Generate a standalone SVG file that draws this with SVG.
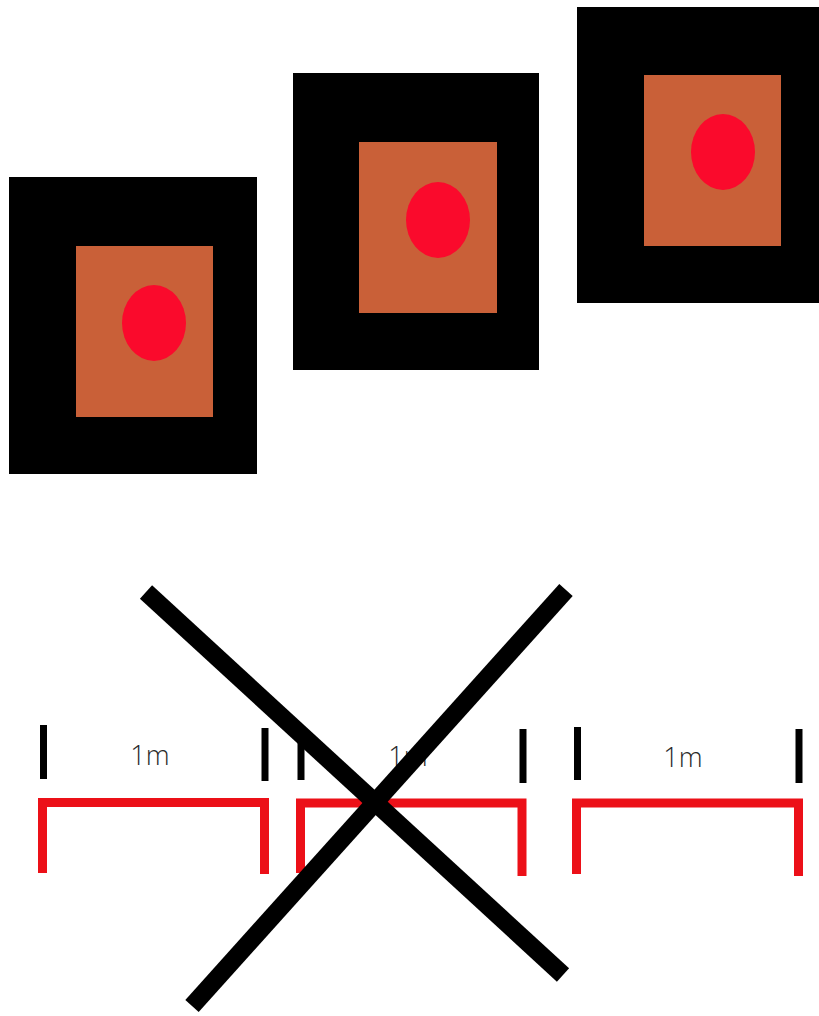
<svg xmlns="http://www.w3.org/2000/svg" width="819" height="1016" viewBox="0 0 819 1016">
<style>
.frame{fill:#000}
.plate{fill:#c96038}
.dot{fill:#fa0a2c}
.tick{stroke:#000;stroke-width:7;fill:none}
.bracket{stroke:#ec1018;stroke-width:9;fill:none;stroke-linejoin:miter}
.lbl{font-family:"Open Sans","Liberation Sans",Arial,sans-serif;font-weight:300;font-size:27px;fill:#2a2a2a;text-anchor:middle}
.cross{stroke:#000;stroke-width:18;fill:none;stroke-linecap:butt}
</style>
<rect width="819" height="1016" fill="#fff"/>
<g id="target1">
<rect class="frame" x="9" y="177" width="248" height="297"/>
<rect class="plate" x="76" y="246" width="137" height="171"/>
<ellipse class="dot" cx="154" cy="323" rx="32" ry="38"/>
</g>
<g id="target2">
<rect class="frame" x="293" y="73" width="246" height="297"/>
<rect class="plate" x="359" y="142" width="138" height="171"/>
<ellipse class="dot" cx="438" cy="220" rx="32" ry="38"/>
</g>
<g id="target3">
<rect class="frame" x="577" y="7" width="242" height="296"/>
<rect class="plate" x="644" y="75" width="137" height="171"/>
<ellipse class="dot" cx="723" cy="152" rx="32" ry="38"/>
</g>
<g id="span1">
<line class="tick" x1="43.5" y1="725" x2="43.5" y2="779"/>
<line class="tick" x1="265" y1="728" x2="265" y2="781"/>
<text class="lbl" x="150" y="765">1m</text>
<path class="bracket" d="M42.5,873 V802.5 H264.5 V874"/>
</g>
<g id="span2">
<line class="tick" x1="301" y1="729" x2="301" y2="780"/>
<line class="tick" x1="523" y1="729" x2="523" y2="783"/>
<text class="lbl" x="408" y="766">1m</text>
<path class="bracket" d="M300.5,873 V803 H522 V876"/>
</g>
<g id="span3">
<line class="tick" x1="577.5" y1="727" x2="577.5" y2="780"/>
<line class="tick" x1="799" y1="729" x2="799" y2="783"/>
<text class="lbl" x="683" y="767">1m</text>
<path class="bracket" d="M576.5,874 V803 H798.5 V876"/>
</g>
<g id="connectors">
<line class="cross" x1="146" y1="592" x2="563" y2="975"/>
<line class="cross" x1="192" y1="1006" x2="566" y2="590"/>
</g>
</svg>
